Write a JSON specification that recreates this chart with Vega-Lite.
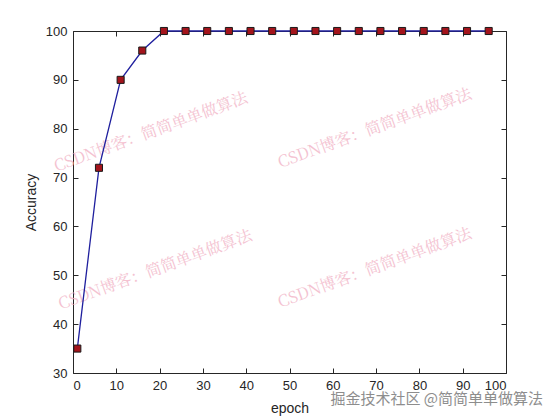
{
  "$schema": "https://vega.github.io/schema/vega-lite/v6.json",
  "width": 433,
  "height": 342,
  "autosize": {"type": "none"},
  "padding": {"left": 73, "top": 31, "right": 54, "bottom": 47},
  "background": "white",
  "config": {
    "view": {"stroke": null},
    "font": "Liberation Sans",
    "axis": {
      "grid": false,
      "domainColor": "#262626",
      "tickColor": "#262626",
      "labelColor": "#262626",
      "titleColor": "#262626",
      "labelFont": "Liberation Sans",
      "titleFont": "Liberation Sans",
      "labelFontSize": 13,
      "titleFontSize": 14,
      "titleFontWeight": "normal",
      "tickSize": -5,
      "domainWidth": 1,
      "tickWidth": 1
    }
  },
  "datasets": {
    "acc": [
      {"epoch": 1, "accuracy": 35},
      {"epoch": 6, "accuracy": 72},
      {"epoch": 11, "accuracy": 90},
      {"epoch": 16, "accuracy": 96},
      {"epoch": 21, "accuracy": 100},
      {"epoch": 26, "accuracy": 100},
      {"epoch": 31, "accuracy": 100},
      {"epoch": 36, "accuracy": 100},
      {"epoch": 41, "accuracy": 100},
      {"epoch": 46, "accuracy": 100},
      {"epoch": 51, "accuracy": 100},
      {"epoch": 56, "accuracy": 100},
      {"epoch": 61, "accuracy": 100},
      {"epoch": 66, "accuracy": 100},
      {"epoch": 71, "accuracy": 100},
      {"epoch": 76, "accuracy": 100},
      {"epoch": 81, "accuracy": 100},
      {"epoch": 86, "accuracy": 100},
      {"epoch": 91, "accuracy": 100},
      {"epoch": 96, "accuracy": 100}
    ],
    "wm": [
      {"x": 18, "y": 79.3, "t": "CSDN博客：简简单单做算法"},
      {"x": 69.7, "y": 80.1, "t": "CSDN博客：简简单单做算法"},
      {"x": 19, "y": 51.1, "t": "CSDN博客：简简单单做算法"},
      {"x": 69.7, "y": 51.5, "t": "CSDN博客：简简单单做算法"}
    ],
    "wm2": [
      {"x": 84, "y": 24.6, "t": "掘金技术社区 @简简单单做算法"}
    ]
  },
  "layer": [
    {
      "data": {"name": "wm"},
      "mark": {"type": "text", "angle": -20, "fontSize": 16, "color": "#f2b3c6", "opacity": 0.8, "font": "Noto Serif CJK SC, Noto Sans CJK SC"},
      "encoding": {
        "x": {"field": "x", "type": "quantitative", "scale": {"domain": [0, 100]}, "axis": {"orient": "top", "labels": false, "title": null, "values": [0,10,20,30,40,50,60,70,80,90,100], "domainColor": "#262626"}},
        "y": {"field": "y", "type": "quantitative", "scale": {"domain": [30, 100]}, "axis": {"orient": "right", "labels": false, "title": null, "values": [30,40,50,60,70,80,90,100]}},
        "text": {"field": "t"}
      }
    },
    {
      "data": {"name": "acc"},
      "layer": [
        {
          "mark": {"type": "line", "color": "#1f1f9e", "strokeWidth": 1.3},
          "encoding": {}
        },
        {
          "mark": {"type": "point", "shape": "square", "filled": true, "size": 50, "color": "#a3141c", "stroke": "#1a1a1a", "strokeWidth": 1, "opacity": 1}
        }
      ],
      "encoding": {
        "x": {"field": "epoch", "type": "quantitative", "scale": {"domain": [0, 100]}, "axis": {"orient": "bottom", "title": "epoch", "values": [0,10,20,30,40,50,60,70,80,90,100], "labelPadding": 11, "titleY": 28, "titleBaseline": "top"}},
        "y": {"field": "accuracy", "type": "quantitative", "scale": {"domain": [30, 100]}, "axis": {"orient": "left", "title": "Accuracy", "values": [30,40,50,60,70,80,90,100], "labelPadding": 11, "titleX": -35}}
      }
    },
    {
      "data": {"name": "wm2"},
      "mark": {"type": "text", "fontSize": 15, "color": "#7a7a7a", "opacity": 0.85, "font": "Noto Sans CJK SC"},
      "encoding": {
        "x": {"field": "x", "type": "quantitative", "scale": {"domain": [0, 100]}, "axis": null},
        "y": {"field": "y", "type": "quantitative", "scale": {"domain": [30, 100]}, "axis": null},
        "text": {"field": "t"}
      }
    }
  ],
  "resolve": {"axis": {"x": "independent", "y": "independent"}}
}
